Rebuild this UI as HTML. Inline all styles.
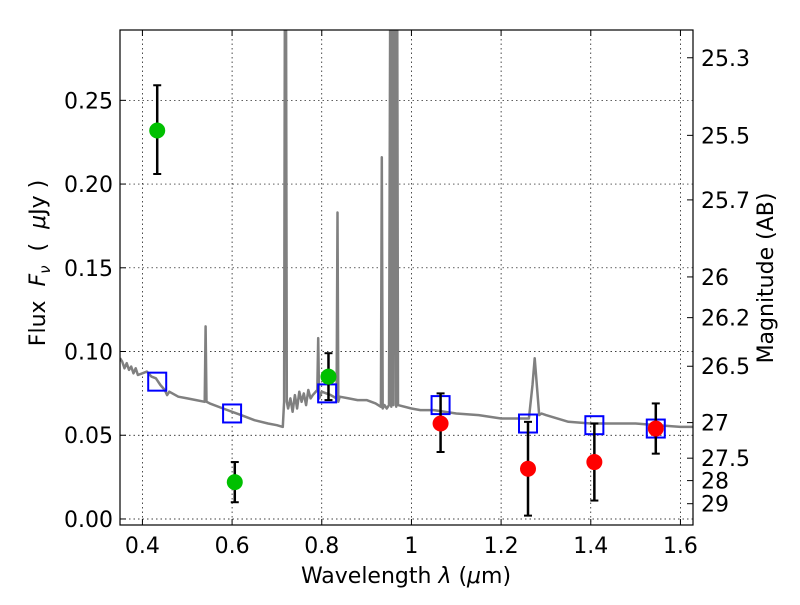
<!DOCTYPE html>
<html><head><meta charset="utf-8"><style>
body{margin:0;background:#fff;}
svg text{font-family:"DejaVu Sans","Liberation Sans",sans-serif;fill:#000;}
</style></head><body>
<svg id="chart" width="800" height="600" xmlns="http://www.w3.org/2000/svg">
<rect x="0" y="0" width="800" height="600" fill="#fff"/>
<g id="grid"></g>
<g id="spec"></g>
<g id="marks"></g>
<rect x="120" y="30" width="573" height="495" fill="none" stroke="#000" stroke-width="1.2"/>
<g id="axes"></g>
<text x="406" y="583" font-size="22" text-anchor="middle">Wavelength  <tspan font-style="italic">λ</tspan> (<tspan font-style="italic">μ</tspan>m)</text>
<text transform="translate(45,263) rotate(-90)" font-size="22" text-anchor="middle" xml:space="preserve">Flux  <tspan font-style="italic">F</tspan><tspan font-style="italic" font-size="15" dy="5">ν</tspan><tspan dy="-5">  (  </tspan><tspan font-style="italic">μ</tspan>Jy )</text>
<text transform="translate(773,278) rotate(-90)" font-size="22" text-anchor="middle">Magnitude (AB)</text>
</svg>
<script>
const xTicks=[0.4,0.6,0.8,1.0,1.2,1.4,1.6];
const xTickLabels=["0.4","0.6","0.8","1","1.2","1.4","1.6"];
const yTicks=[0,0.05,0.1,0.15,0.2,0.25];
const yTickLabels=["0.00","0.05","0.10","0.15","0.20","0.25"];
const magTicks=[25.3,25.5,25.7,26,26.2,26.5,27,27.5,28,29];
const magLabels=["25.3","25.5","25.7","26","26.2","26.5","27","27.5","28","29"];
const greenWave=[0.433,0.606,0.815];
const greenFlux=[0.232,0.022,0.085];
const greenLo=[0.206,0.010,0.071];
const greenHi=[0.259,0.034,0.099];
const redWave=[1.065,1.26,1.408,1.545];
const redFlux=[0.057,0.030,0.034,0.054];
const redLo=[0.040,0.002,0.011,0.039];
const redHi=[0.075,0.058,0.057,0.069];
const modelWave=[0.433,0.60,0.812,1.065,1.26,1.408,1.545];
const modelFlux=[0.082,0.063,0.075,0.068,0.057,0.056,0.054];
const specWave=[0.35,0.355,0.36,0.365,0.37,0.375,0.38,0.385,0.39,0.40,0.41,0.42,0.43,0.44,0.45,0.455,0.46,0.48,0.50,0.52,0.539,0.541,0.543,0.55,0.58,0.60,0.62,0.65,0.68,0.70,0.713,0.716,0.718,0.720,0.722,0.725,0.73,0.735,0.74,0.745,0.75,0.755,0.76,0.765,0.77,0.775,0.78,0.79,0.792,0.794,0.80,0.82,0.833,0.835,0.837,0.84,0.86,0.88,0.90,0.92,0.932,0.934,0.936,0.938,0.94,0.945,0.95,0.953,0.955,0.958,0.96,0.962,0.964,0.966,0.968,0.97,1.0,1.02,1.05,1.10,1.15,1.20,1.25,1.262,1.27,1.275,1.285,1.29,1.30,1.35,1.40,1.45,1.50,1.55,1.60,1.628];
const specFlux=[0.096,0.094,0.09,0.093,0.089,0.091,0.087,0.09,0.086,0.087,0.088,0.085,0.084,0.08,0.077,0.074,0.076,0.073,0.072,0.071,0.070,0.115,0.070,0.069,0.066,0.064,0.062,0.059,0.057,0.056,0.055,0.070,0.35,0.35,0.070,0.066,0.072,0.064,0.074,0.066,0.076,0.070,0.075,0.068,0.077,0.072,0.074,0.077,0.108,0.072,0.076,0.074,0.072,0.183,0.070,0.073,0.072,0.071,0.071,0.069,0.067,0.216,0.066,0.067,0.068,0.066,0.068,0.35,0.067,0.35,0.068,0.35,0.35,0.067,0.35,0.068,0.066,0.065,0.065,0.063,0.062,0.060,0.060,0.060,0.080,0.096,0.062,0.063,0.062,0.058,0.057,0.057,0.057,0.056,0.055,0.055];
const X0=120,X1=693,Y0=525,Y1=30,XMIN=0.35,XMAX=1.628,YMIN=-0.0036,YMAX=0.292;
const NS="http://www.w3.org/2000/svg";
function sx(v){return X0+(v-XMIN)/(XMAX-XMIN)*(X1-X0);}
function sy(v){return Y0-(v-YMIN)/(YMAX-YMIN)*(Y0-Y1);}
function magToFlux(m){return Math.pow(10,(23.9-m)/2.5);}
function mk(tag,attrs,parent){const e=document.createElementNS(NS,tag);for(const k in attrs)e.setAttribute(k,attrs[k]);parent.appendChild(e);return e;}
const grid=document.getElementById('grid'),axes=document.getElementById('axes'),spec=document.getElementById('spec'),marks=document.getElementById('marks');
xTicks.forEach((t,i)=>{const x=sx(t);
 let g=mk('line',{x1:x,x2:x,y1:Y1,y2:Y0,stroke:'#000','stroke-width':0.7,'stroke-dasharray':'1.5,3'},grid);
 
 
 let a=mk('line',{x1:x,x2:x,y1:Y0,y2:Y0-6,stroke:'#000'},axes);
 
 
 let b=mk('line',{x1:x,x2:x,y1:Y1,y2:Y1+6,stroke:'#000'},axes);
 
 
 let tx=mk('text',{x:x,y:Y0+28,'font-size':22,'text-anchor':'middle'},axes);tx.textContent=xTickLabels[i];
 
 
});
yTicks.forEach((t,i)=>{const y=sy(t);
 let g=mk('line',{x1:X0,x2:X1,y1:y,y2:y,stroke:'#000','stroke-width':0.7,'stroke-dasharray':'1.5,3'},grid);
 
 
 let a=mk('line',{x1:X0,x2:X0+6,y1:y,y2:y,stroke:'#000'},axes);
 
 
 let tx=mk('text',{x:X0-7,y:y+8,'font-size':22,'text-anchor':'end'},axes);tx.textContent=yTickLabels[i];
 
 
});
magTicks.forEach((m,i)=>{const y=sy(magToFlux(m));
 let a=mk('line',{x1:X1-6,x2:X1,y1:y,y2:y,stroke:'#000'},axes);
 
 
 let tx=mk('text',{x:X1+8,y:y+8,'font-size':22},axes);tx.textContent=magLabels[i];
 
 
});
const cp=mk('clipPath',{id:'clip'},spec);mk('rect',{x:X0,y:Y1,width:X1-X0,height:Y0-Y1},cp);
let pts=specWave.map((w,i)=>sx(w).toFixed(1)+','+sy(specFlux[i]).toFixed(1)).join(' ');
let pl=mk('polyline',{points:pts,fill:'none',stroke:'#808080','stroke-width':2.5,'stroke-linejoin':'round','clip-path':'url(#clip)'},spec);


modelWave.forEach((w,i)=>{
 let r=mk('rect',{x:sx(w)-9,y:sy(modelFlux[i])-9,width:18,height:18,fill:'none',stroke:'#0000ff','stroke-width':2},marks);
 
 
});
function pointSet(W,F,L,H,color,name){W.forEach((w,i)=>{const x=sx(w);
 let e=mk('g',{},marks);
 
 
 mk('line',{x1:x,x2:x,y1:sy(L[i]),y2:sy(H[i]),stroke:'#000','stroke-width':2.5},e);
 mk('line',{x1:x-4,x2:x+4,y1:sy(L[i]),y2:sy(L[i]),stroke:'#000','stroke-width':2},e);
 mk('line',{x1:x-4,x2:x+4,y1:sy(H[i]),y2:sy(H[i]),stroke:'#000','stroke-width':2},e);
 let c=mk('circle',{cx:x,cy:sy(F[i]),r:8,fill:color},marks);
 
 
});}
pointSet(greenWave,greenFlux,greenLo,greenHi,'#00c000','optical-detection');
pointSet(redWave,redFlux,redLo,redHi,'#ff0000','nir-detection');
</script>
</body></html>
